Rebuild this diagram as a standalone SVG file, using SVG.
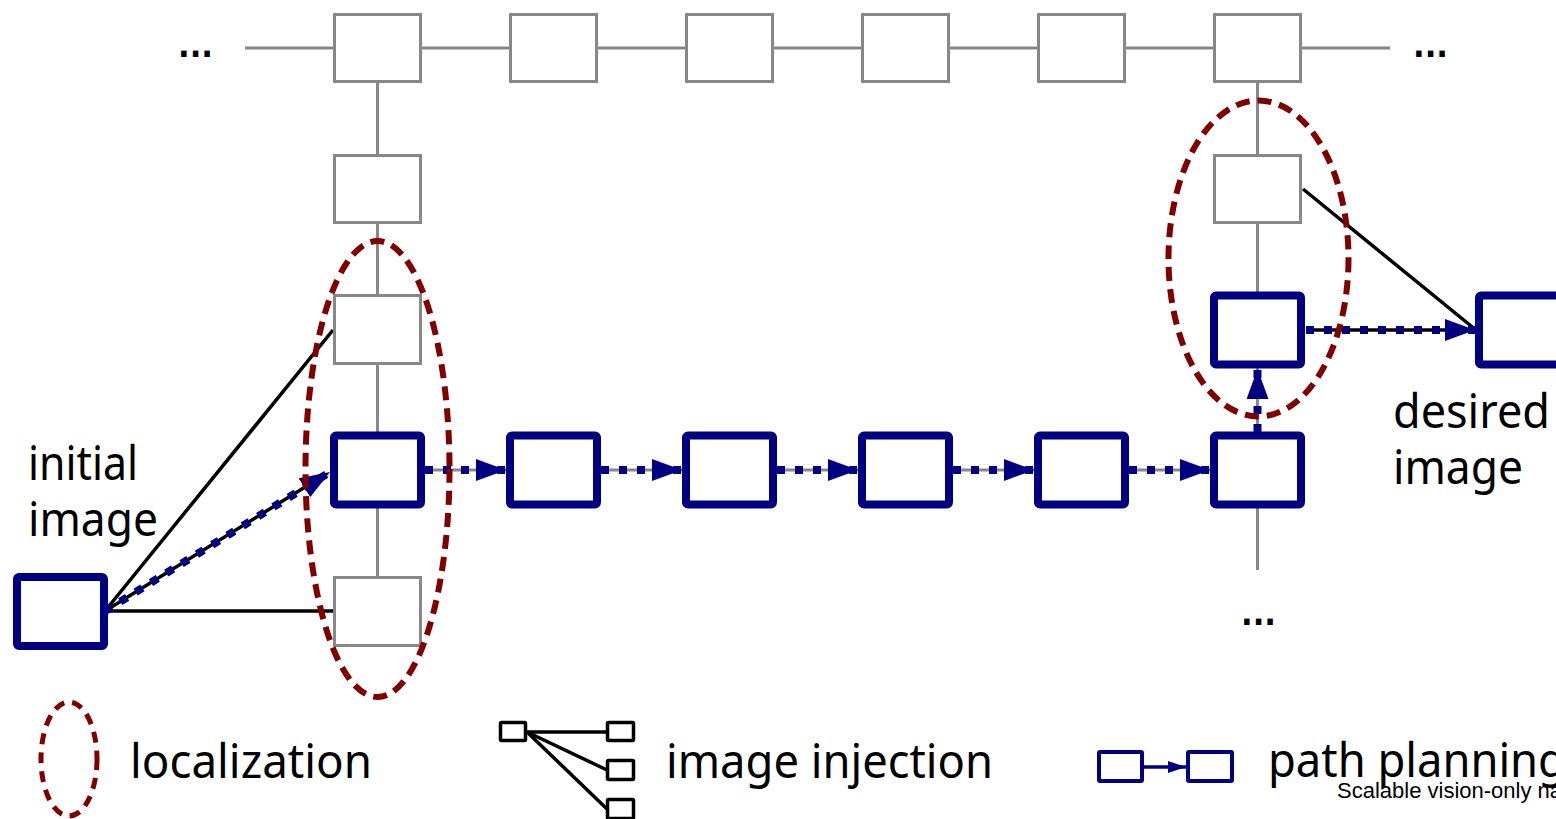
<svg xmlns="http://www.w3.org/2000/svg" width="1556" height="819" viewBox="0 0 1556 819">
<style>
.gbox{fill:#fff;stroke:#888;stroke-width:3}
.bbox{fill:#fff;stroke:#000080;stroke-width:8}
.gline{stroke:#888;stroke-width:3;fill:none}
.kline{stroke:#000;stroke-width:3.5;fill:none}
.dots{stroke:#000080;stroke-width:8;stroke-dasharray:8 10;fill:none}
.ell{fill:none;stroke:#800000;stroke-width:6;stroke-dasharray:14 8}
.lbl{font-family:"Noto Sans","DejaVu Sans",sans-serif;font-size:48px;fill:#000}
.ell3{font-family:"DejaVu Sans",sans-serif;font-size:34px;font-weight:bold;fill:#000}
.small{font-family:"Liberation Sans",Arial,sans-serif;font-size:22px;fill:#000}
</style>
<defs>
<marker id="ah" markerUnits="userSpaceOnUse" markerWidth="30" markerHeight="22" refX="30" refY="11" orient="auto" viewBox="0 0 30 22">
<path d="M0,0 L30,11 L0,22 z" fill="#000080"/>
</marker>
<marker id="ahs" markerUnits="userSpaceOnUse" markerWidth="18" markerHeight="12" refX="18" refY="6" orient="auto" viewBox="0 0 18 12">
<path d="M0,0 L18,6 L0,12 z" fill="#000080"/>
</marker>
</defs>

<g id="connectors">
<line class="gline" x1="245" y1="48" x2="1390" y2="48"/>
<line class="gline" x1="377.5" y1="48" x2="377.5" y2="611"/>
<line class="gline" x1="1257.5" y1="48" x2="1257.5" y2="570"/>
<line class="gline" x1="377.5" y1="470" x2="1257.5" y2="470"/>
<line class="kline" x1="105" y1="611" x2="333" y2="611"/>
<line class="kline" x1="105" y1="611" x2="333" y2="330"/>
<line class="kline" x1="105" y1="611" x2="310" y2="484"/>
<line class="kline" x1="1303" y1="189" x2="1476" y2="330"/>
<line class="kline" x1="1306" y1="330" x2="1450" y2="330"/>
<line class="dots" x1="105" y1="611" x2="330" y2="472" marker-end="url(#ah)"/>
<line class="dots" x1="425" y1="470" x2="506" y2="470" marker-end="url(#ah)"/>
<line class="dots" x1="601" y1="470" x2="682" y2="470" marker-end="url(#ah)"/>
<line class="dots" x1="777" y1="470" x2="858" y2="470" marker-end="url(#ah)"/>
<line class="dots" x1="953" y1="470" x2="1034" y2="470" marker-end="url(#ah)"/>
<line class="dots" x1="1129" y1="470" x2="1210" y2="470" marker-end="url(#ah)"/>
<line class="dots" x1="1257.5" y1="432" x2="1257.5" y2="369" marker-end="url(#ah)"/>
<line class="dots" x1="1306" y1="330" x2="1475" y2="330" marker-end="url(#ah)"/>
</g>

<g id="row-top">
<rect id="t1" class="gbox" x="334.5" y="14.5" width="86" height="67"/>
<rect id="t2" class="gbox" x="510.5" y="14.5" width="86" height="67"/>
<rect id="t3" class="gbox" x="686.5" y="14.5" width="86" height="67"/>
<rect id="t4" class="gbox" x="862.5" y="14.5" width="86" height="67"/>
<rect id="t5" class="gbox" x="1038.5" y="14.5" width="86" height="67"/>
<rect id="t6" class="gbox" x="1214.5" y="14.5" width="86" height="67"/>
</g>
<g id="col-left">
<rect id="l2" class="gbox" x="334.5" y="155.5" width="86" height="67"/>
<rect id="l3" class="gbox" x="334.5" y="295.5" width="86" height="68"/>
<rect id="l5" class="gbox" x="334.5" y="577.5" width="86" height="68"/>
</g>
<g id="col-right">
<rect id="r2" class="gbox" x="1214.5" y="155.5" width="86" height="67"/>
</g>
<g id="path">
<rect id="p1" class="bbox" x="334" y="435.5" width="87" height="69" rx="2"/>
<rect id="p2" class="bbox" x="510" y="435.5" width="87" height="69" rx="2"/>
<rect id="p3" class="bbox" x="686" y="435.5" width="87" height="69" rx="2"/>
<rect id="p4" class="bbox" x="862" y="435.5" width="87" height="69" rx="2"/>
<rect id="p5" class="bbox" x="1038" y="435.5" width="87" height="69" rx="2"/>
<rect id="p6" class="bbox" x="1214" y="435.5" width="87" height="69" rx="2"/>
<rect id="p7" class="bbox" x="1214" y="295.5" width="87" height="69" rx="2"/>
</g>
<g id="initial">
<rect class="bbox" x="17" y="577" width="87" height="69" rx="2"/>
<text class="lbl" x="28" y="480" textLength="110" lengthAdjust="spacingAndGlyphs">initial</text>
<text class="lbl" x="28" y="536" textLength="130" lengthAdjust="spacingAndGlyphs">image</text>
</g>
<g id="desired">
<rect class="bbox" x="1479" y="295.5" width="87" height="69" rx="2"/>
<text class="lbl" x="1393" y="428" textLength="157" lengthAdjust="spacingAndGlyphs">desired</text>
<text class="lbl" x="1393" y="484" textLength="130" lengthAdjust="spacingAndGlyphs">image</text>
</g>
<g id="localization-areas">
<ellipse class="ell" cx="377.5" cy="469" rx="72" ry="228"/>
<ellipse class="ell" cx="1258.5" cy="258.5" rx="90" ry="158"/>
</g>
<g id="ellipses-dots">
<text class="ell3" x="178" y="57" textLength="35" lengthAdjust="spacingAndGlyphs">...</text>
<text class="ell3" x="1413" y="57" textLength="35" lengthAdjust="spacingAndGlyphs">...</text>
<text class="ell3" x="1241" y="625" textLength="35" lengthAdjust="spacingAndGlyphs">...</text>
</g>

<g id="legend-localization">
<ellipse cx="69" cy="759" rx="28" ry="57" fill="none" stroke="#800000" stroke-width="5" stroke-dasharray="11 8"/>
<text class="lbl" x="130" y="778" textLength="242" lengthAdjust="spacingAndGlyphs">localization</text>
</g>
<g id="legend-injection">
<line x1="527" y1="732" x2="607" y2="732" stroke="#000" stroke-width="3.5"/>
<line x1="527" y1="732" x2="607" y2="770" stroke="#000" stroke-width="3.5"/>
<line x1="527" y1="732" x2="607" y2="809" stroke="#000" stroke-width="3.5"/>
<rect x="500.5" y="722.5" width="25" height="18" fill="#fff" stroke="#000" stroke-width="3.5" rx="1"/>
<rect x="607.5" y="722.5" width="26" height="18" fill="#fff" stroke="#000" stroke-width="3.5" rx="1"/>
<rect x="607.5" y="760.5" width="26" height="19" fill="#fff" stroke="#000" stroke-width="3.5" rx="1"/>
<rect x="607.5" y="799.5" width="26" height="19" fill="#fff" stroke="#000" stroke-width="3.5" rx="1"/>
<text class="lbl" x="666" y="778" textLength="327" lengthAdjust="spacingAndGlyphs">image injection</text>
</g>
<g id="legend-path">
<line x1="1144" y1="767" x2="1186" y2="767" stroke="#000080" stroke-width="3.5" marker-end="url(#ahs)"/>
<rect x="1099" y="752" width="43" height="29" fill="#fff" stroke="#000080" stroke-width="4" rx="1"/>
<rect x="1188" y="752" width="44" height="29" fill="#fff" stroke="#000080" stroke-width="4" rx="1"/>
<text class="lbl" x="1268" y="777" textLength="298" lengthAdjust="spacingAndGlyphs">path planning</text>
<text class="small" x="1337" y="798">Scalable vision-only na</text>
</g>
</svg>
